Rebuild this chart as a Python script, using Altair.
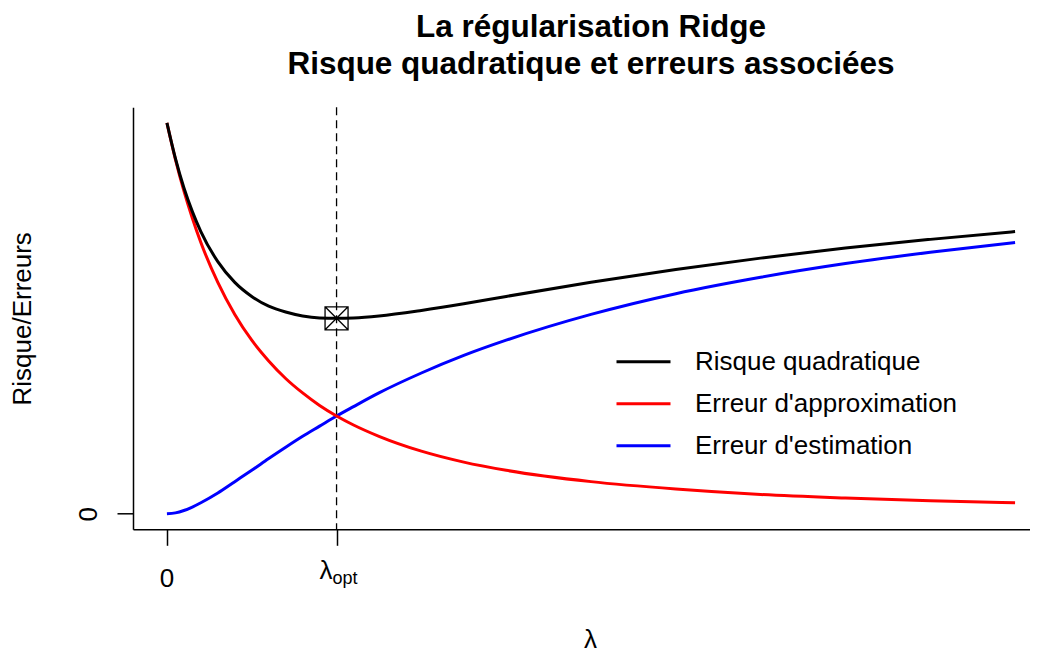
import altair as alt
import pandas as pd

# ---- data ----
lam = [0.0, 0.05, 0.1, 0.15, 0.2, 0.3, 0.4, 0.5, 0.6, 0.7, 0.8, 0.9, 1.0, 1.1, 1.25,
       1.5, 1.75, 2.0, 2.5, 3.0, 3.5, 4.0, 4.5, 5.0]
approx = [1.000, 0.907, 0.826, 0.756, 0.694, 0.592, 0.510, 0.444, 0.391, 0.346, 0.309,
          0.277, 0.250, 0.227, 0.198, 0.160, 0.132, 0.111, 0.082, 0.063, 0.049, 0.040,
          0.033, 0.028]
estim = [0.000, 0.002, 0.008, 0.017, 0.028, 0.053, 0.082, 0.111, 0.141, 0.170, 0.198,
         0.224, 0.250, 0.274, 0.309, 0.360, 0.405, 0.444, 0.510, 0.563, 0.605, 0.640,
         0.669, 0.694]
risk = [1.000, 0.909, 0.834, 0.773, 0.722, 0.645, 0.592, 0.556, 0.531, 0.516, 0.506,
        0.501, 0.500, 0.501, 0.506, 0.520, 0.537, 0.556, 0.592, 0.625, 0.654, 0.680,
        0.702, 0.722]
series = ["Risque quadratique", "Erreur d'approximation", "Erreur d'estimation"]
colors = ["#000000", "#FF0000", "#0000FF"]
lam_opt = 1.0
x_ticks = [0.0, lam_opt]
y_ticks = [0]

rows = []
for s, vals in zip(series, [risk, approx, estim]):
    for l, v in zip(lam, vals):
        rows.append({"lam": l, "val": v, "serie": s})
df = pd.DataFrame(rows)

W, H = 897, 422
FONT = "Liberation Sans"
xs = alt.Scale(domain=[-0.2, 5.088], nice=False, zero=False)
ys = alt.Scale(domain=[-0.04, 1.04], nice=False, zero=False)

xaxis = alt.Axis(values=x_ticks, labels=False, grid=False, title="λ",
                 titleFont=FONT, titleFontSize=26, titleFontWeight="normal",
                 titleColor="black", titleX=457, titleY=118, titleAlign="center",
                 titleBaseline="alphabetic", tickSize=16, tickColor="black",
                 tickWidth=1.5, domainColor="black", domainWidth=1.5)
yaxis = alt.Axis(values=y_ticks, grid=False, labelAngle=270, labelAlign="center",
                 labelBaseline="alphabetic", labelPadding=21, labelFontSize=26,
                 labelFont=FONT, labelColor="black", title="Risque/Erreurs",
                 titleAngle=270, titleX=-111, titleY=211, titleAlign="center",
                 titleBaseline="middle", titleFont=FONT, titleFontSize=26,
                 titleFontWeight="normal", titleColor="black", tickSize=16,
                 tickColor="black", tickWidth=1.5, domainColor="black", domainWidth=1.5)

legend = alt.Legend(title=None, orient="none", legendX=482, legendY=226,
                    symbolType="stroke", symbolSize=2916, symbolStrokeWidth=3,
                    labelFontSize=26, labelFont=FONT, labelColor="black",
                    labelOffset=23, rowPadding=-1, padding=0, labelLimit=0)
color = alt.Color("serie:N", scale=alt.Scale(domain=series, range=colors), legend=legend)

X = alt.X("lam:Q", scale=xs, axis=xaxis)
Y = alt.Y("val:Q", scale=ys, axis=yaxis)

base = alt.Chart(df)


def line_layer(name):
    return base.transform_filter(alt.datum.serie == name).mark_line(
        strokeWidth=3, interpolate="monotone"
    ).encode(x=X, y=Y, color=color)


layers = [line_layer(series[2]), line_layer(series[1]), line_layer(series[0])]

rule = alt.Chart(pd.DataFrame({"lam": [lam_opt]})).mark_rule(
    strokeDash=[8, 5], strokeWidth=1.3, color="black"
).encode(x=X)

marker = alt.Chart(pd.DataFrame({"lam": [lam_opt], "val": [risk[lam.index(lam_opt)]]})).mark_point(
    shape="M-1,-1L1,-1L1,1L-1,1ZM-1,-1L1,1M1,-1L-1,1", size=529, filled=False,
    stroke="black", strokeWidth=1.3, opacity=1
).encode(x=X, y=Y)

tick0 = alt.Chart(pd.DataFrame({"lam": [x_ticks[0]], "t": ["0"]})).mark_text(
    font=FONT, fontSize=26, align="center", baseline="alphabetic", color="black"
).encode(x=X, y=alt.value(479.7), text="t:N")

tick_l = alt.Chart(pd.DataFrame({"lam": [x_ticks[1]], "t": ["λ"]})).mark_text(
    font=FONT, fontSize=26, align="right", baseline="alphabetic", color="black", dx=-4
).encode(x=X, y=alt.value(471.7), text="t:N")

tick_sub = alt.Chart(pd.DataFrame({"lam": [x_ticks[1]], "t": ["opt"]})).mark_text(
    font=FONT, fontSize=18, align="left", baseline="alphabetic", color="black", dx=-4
).encode(x=X, y=alt.value(476.7), text="t:N")

chart = alt.layer(*layers, rule, marker, tick0, tick_l, tick_sub).properties(
    width=W, height=H,
    title=alt.TitleParams(
        ["La régularisation Ridge", "Risque quadratique et erreurs associées"],
        font=FONT, fontSize=31.5, fontWeight="bold", color="black",
        anchor="middle", dx=9.5, offset=-6, lineHeight=37, baseline="bottom"),
    autosize=alt.AutoSizeParams(type="none"),
    padding={"left": 125, "top": 99.3, "right": 0, "bottom": 124},
    background="white",
).configure_view(stroke=None)

chart.save("out.html", embed_options={"renderer": "svg", "actions": False})
